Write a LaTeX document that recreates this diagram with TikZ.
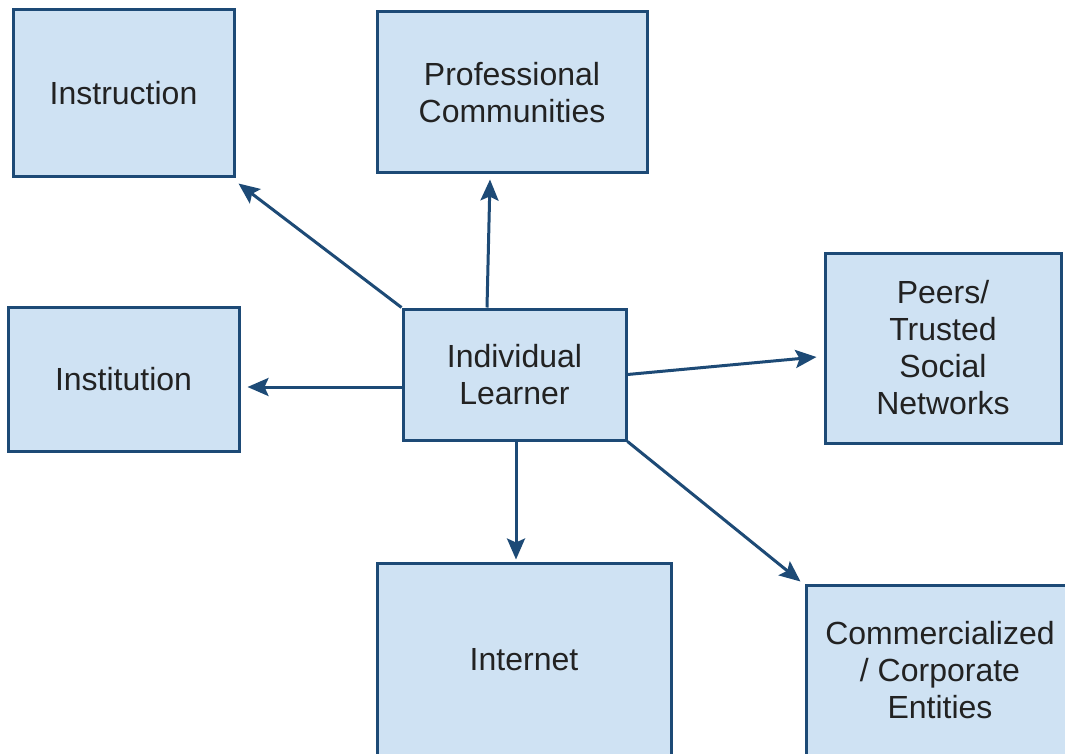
\documentclass[tikz,border=0pt]{standalone}
\usepackage{fontspec}
\setmainfont{Liberation Sans}
\usetikzlibrary{arrows.meta}
\definecolor{boxfill}{HTML}{CFE2F3}
\definecolor{boxline}{HTML}{1D4A76}
\definecolor{txt}{HTML}{222222}
\tikzset{
  box/.style={draw=boxline, fill=boxfill, line width=3pt, inner sep=0pt,
    align=center, text=txt, font=\fontsize{32}{37}\selectfont},
  conn/.style={draw=boxline, line width=3pt, -{Stealth[length=21pt,width=18pt,inset=4pt]}}
}
\begin{document}
\begin{tikzpicture}[x=1pt,y=-1pt]
\useasboundingbox (0,0) rectangle (1065,754);
\clip (0,0) rectangle (1065,754);
\fill[white] (0,0) rectangle (1065,754);
\node[box, minimum width=221pt, minimum height=167pt] (instr) at (123.5,93.5) {Instruction};
\node[box, minimum width=270pt, minimum height=161pt] (prof) at (512,92.5) {Professional\\Communities};
\node[box, minimum width=236pt, minimum height=190pt] (peers) at (943,348) {Peers/\\Trusted\\Social\\Networks};
\node[box, minimum width=231pt, minimum height=144pt] (inst) at (123.5,379) {Institution};
\node[box, minimum width=223pt, minimum height=131pt] (il) at (514.5,374.5) {Individual\\Learner};
\node[box, minimum width=294pt, minimum height=194pt] (int) at (524,660) {Internet};
\node[box, minimum width=268pt, minimum height=170pt] (comm) at (940,670) {Commercialized\\/ Corporate\\Entities};
\draw[conn] (il.north west) -- ([shift={(3pt,-5pt)}]instr.south east);
\draw[conn] ([xshift=-27.5pt]il.north) -- ([shift={(-22pt,-5pt)}]prof.south);
\draw[conn] ([yshift=-12.5pt]il.west) -- ([shift={(7pt,-8pt)}]inst.east);
\draw[conn] ([yshift=0pt]il.east) -- ([shift={(-7pt,-9pt)}]peers.west);
\draw[conn] ([xshift=1.5pt]il.south) -- ([shift={(-8pt,2pt)}]int.north);
\draw[conn] (il.south east) -- ([shift={(-4pt,2pt)}]comm.north west);
\end{tikzpicture}
\end{document}
